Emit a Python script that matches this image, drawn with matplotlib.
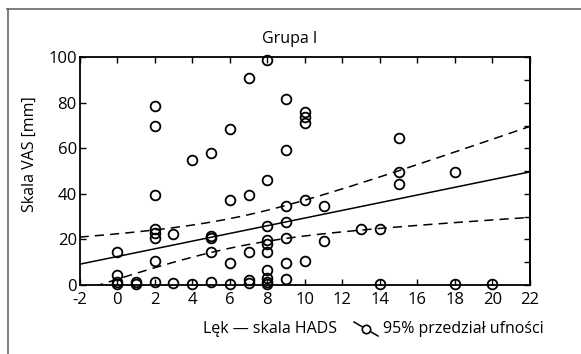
import numpy as np
import matplotlib
matplotlib.use("Agg")
import matplotlib.pyplot as plt
from matplotlib.lines import Line2D

plt.rcParams['font.family'] = ['Open Sans', 'DejaVu Sans']

# data: anxiety score (HADS) vs VAS [mm]
x_vals = [0, 0, 0, 0,
          1, 1,
          2, 2, 2, 2, 2, 2, 2, 2,
          3, 3,
          4, 4,
          5, 5, 5, 5, 5,
          6, 6, 6, 6,
          7, 7, 7, 7, 7,
          8, 8, 8, 8, 8, 8, 8, 8, 8, 8,
          9, 9, 9, 9, 9, 9, 9,
          10, 10, 10, 10, 10,
          11, 11,
          13,
          14, 14,
          15, 15, 15,
          18, 18,
          20]
y_vals = [14.5, 4.5, 1.2, 0.3,
          1.2, 0.4,
          78.5, 70, 39.5, 24.5, 23, 20.5, 10.5, 1.2,
          22.5, 0.8,
          55, 0.6,
          58, 21.5, 20.5, 14.5, 1.2,
          68.5, 37.5, 9.5, 0.6,
          91, 39.5, 14.5, 2.2, 0.8,
          99, 46, 26, 19.8, 18, 14.5, 6.5, 3.2, 1.4, 0.4,
          81.5, 59.5, 34.5, 27.5, 20.5, 9.5, 2.8,
          76, 74, 71, 37.5, 10.5,
          34.5, 19.5,
          24.5,
          24.5, 0.6,
          64.5, 49.5, 44.5,
          49.5, 0.6,
          0.6]

# regression line and 95% confidence band parameters
intercept = 12.5
slope = 1.69
band_center = 6.3
band_var0 = 42.0
band_curv = 1.45

x_ticks = list(range(-2, 23, 2))
y_ticks = list(range(0, 101, 20))
y_ticks_right = list(range(0, 101, 10))

W, H = 581, 354
fig = plt.figure(figsize=(W / 100, H / 100), dpi=100)
ax = fig.add_axes([79.6 / W, 1 - 285 / H, (530 - 79.6) / W, (285 - 57.3) / H])

xx = np.linspace(-2, 22, 200)
yhat = intercept + slope * xx
hw = np.sqrt(band_var0 + band_curv * (xx - band_center) ** 2)
ax.plot(xx, yhat, color='black', lw=1.1)
ax.plot(xx, yhat + hw, color='black', lw=1.1, dashes=(6, 4))
ax.plot(xx, yhat - hw, color='black', lw=1.1, dashes=(6, 4))

ax.plot(x_vals, y_vals, linestyle='none', marker='o', markersize=7,
        markerfacecolor='none', markeredgecolor='black', markeredgewidth=1.3,
        clip_on=False)

ax.set_xlim(-2, 22)
ax.set_ylim(0, 100)
ax.set_xticks(x_ticks)
ax.set_xticklabels([str(t) for t in x_ticks])
ax.set_yticks(y_ticks)
ax.set_yticklabels([str(t) for t in y_ticks])
ax.tick_params(axis='x', direction='in', top=True, length=4, width=1,
               labelsize=12, pad=5)
ax.tick_params(axis='y', direction='in', left=True, right=False, length=4,
               width=1, labelsize=12, pad=2)
sec = ax.secondary_yaxis('right')
sec.set_yticks(y_ticks_right)
sec.tick_params(direction='in', length=4, width=1, labelright=False)
for s in list(ax.spines.values()) + list(sec.spines.values()):
    s.set_linewidth(1.3)

fig.text(290 / W, 1 - 39 / H, 'Grupa I', ha='center', va='center', fontsize=11.5)
fig.text(30 / W, 1 - 154 / H, 'Skala VAS [mm]', ha='center', va='center',
         rotation=90, fontsize=11.5)
fig.text(337 / W, 1 - 329 / H, 'Lęk — skala HADS', ha='right', va='center',
         fontsize=11.5)
fig.text(383 / W, 1 - 329 / H, '95% przedział ufności', ha='left', va='center',
         fontsize=11.5)
fig.add_artist(Line2D([354 / W, 378 / W], [1 - 322 / H, 1 - 336 / H],
                      transform=fig.transFigure, color='black', lw=1.1))
fig.add_artist(Line2D([366 / W], [1 - 329 / H], transform=fig.transFigure,
                      marker='o', markersize=6, markerfacecolor='white',
                      markeredgecolor='black', markeredgewidth=1.2))

# outer frame
fig.add_artist(Line2D([7 / W, 1], [1 - 8.5 / H, 1 - 8.5 / H],
                      transform=fig.transFigure, color='#666666', lw=1.2))
fig.add_artist(Line2D([7.5 / W, 7.5 / W], [1 - 8.5 / H, 0],
                      transform=fig.transFigure, color='#666666', lw=1.2))

fig.savefig('out.png', dpi=100)
